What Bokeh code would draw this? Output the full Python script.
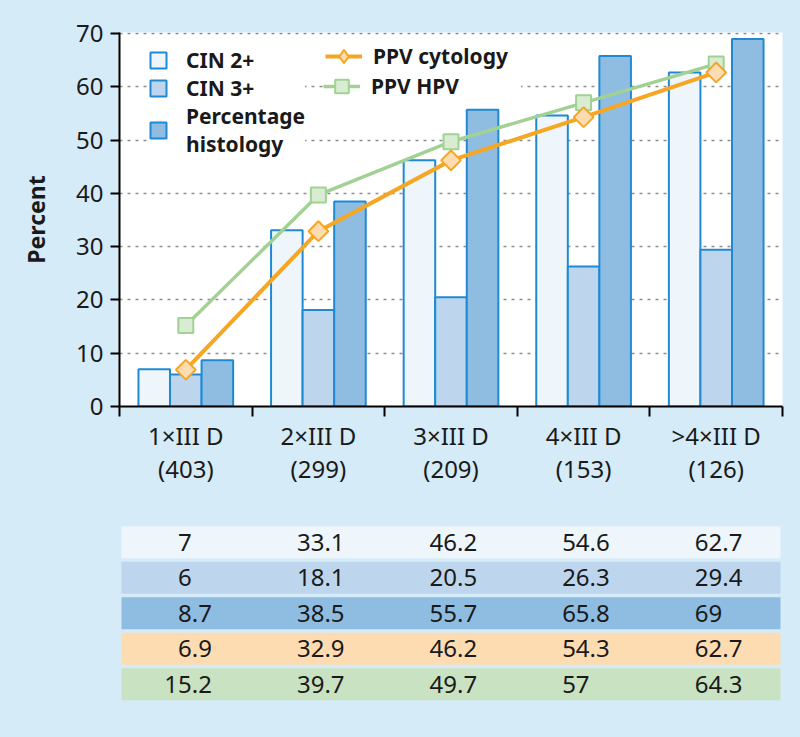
import numpy as np
from bokeh.plotting import figure
from bokeh.models import (Range1d, FixedTicker, Legend, LegendItem, ColumnDataSource)
from bokeh.layouts import column
from bokeh.core.properties import value
from bokeh.embed import file_html
from bokeh.resources import INLINE

# ---------------- data ----------------
categories = ["1×III D\n(403)", "2×III D\n(299)", "3×III D\n(209)", "4×III D\n(153)", ">4×III D\n(126)"]
cin2 = [7, 33.1, 46.2, 54.6, 62.7]
cin3 = [6, 18.1, 20.5, 26.3, 29.4]
histology = [8.7, 38.5, 55.7, 65.8, 69]
ppv_cytology = [6.9, 32.9, 46.2, 54.3, 62.7]
ppv_hpv = [15.2, 39.7, 49.7, 57, 64.3]
y_ticks = [0, 10, 20, 30, 40, 50, 60, 70]

BG = "#d5ebf8"
BLUE = "#1f8ad3"
C_CIN2 = "#eef5fb"
C_CIN3 = "#bdd6ee"
C_HIST = "#8fbde2"
ORANGE = "#f6a623"
C_ORANGE_FILL = "#fddcb2"
GREEN = "#a2d194"
C_GREEN_FILL = "#d8ecd2"
C_GREEN_ROW = "#c9e3c2"
FONT = "Noto Sans"
TXT = "#1a1a1a"

n = len(categories)
centers = np.arange(n) + 0.5
bw = 0.238

# ---------------- chart ----------------
p = figure(width=800, height=500, x_range=Range1d(0, n), y_range=Range1d(0, 70.2),
           output_backend="svg", toolbar_location=None,
           min_border_left=119, min_border_right=18, min_border_top=32, min_border_bottom=94)
p.border_fill_color = BG
p.background_fill_color = "white"
p.outline_line_color = None
p.xgrid.visible = False
p.ygrid.grid_line_color = "#8c8c8c"
p.ygrid.grid_line_dash = "3 5"
p.ygrid.grid_line_width = 1.5
p.ygrid.ticker = FixedTicker(ticks=y_ticks[1:])

r_cin2 = p.vbar(x=centers - bw, top=cin2, width=bw, fill_color=C_CIN2, line_color=BLUE, line_width=2)
r_cin3 = p.vbar(x=centers, top=cin3, width=bw, fill_color=C_CIN3, line_color=BLUE, line_width=2)
r_hist = p.vbar(x=centers + bw, top=histology, width=bw, fill_color=C_HIST, line_color=BLUE, line_width=2)

l_hpv = p.line(centers, ppv_hpv, line_color=GREEN, line_width=3.5)
s_hpv = p.scatter(centers, ppv_hpv, marker="square", size=15, fill_color=C_GREEN_FILL,
                  line_color=GREEN, line_width=2)
l_cyt = p.line(centers, ppv_cytology, line_color=ORANGE, line_width=4)
s_cyt = p.scatter(centers, ppv_cytology, marker="square", angle=np.pi / 4, size=14,
                  fill_color=C_ORANGE_FILL, line_color=ORANGE, line_width=2)
# legend proxy: legend glyphs are drawn unrotated, so use a diamond marker there
s_cyt_leg = p.scatter(centers, ppv_cytology, marker="diamond", fill_color=C_ORANGE_FILL,
                      line_color=ORANGE, line_width=2, visible=False)

# axes
xa = p.xaxis[0]
xa.ticker = FixedTicker(ticks=list(centers), minor_ticks=list(range(n + 1)))
xa.major_label_overrides = {float(c): lab for c, lab in zip(centers, categories)}
xa.major_tick_out = 0
xa.major_tick_in = 0
xa.minor_tick_out = 10
xa.minor_tick_in = 0
xa.minor_tick_line_color = "black"
xa.minor_tick_line_width = 2
xa.axis_line_color = "black"
xa.axis_line_width = 2
xa.major_label_text_font = FONT
xa.major_label_text_font_size = "24px"
xa.major_label_text_color = TXT
xa.major_label_text_line_height = 1.0
xa.major_label_standoff = 2

ya = p.yaxis[0]
ya.ticker = FixedTicker(ticks=y_ticks)
ya.minor_tick_line_color = None
ya.major_tick_out = 9
ya.major_tick_in = 0
ya.major_tick_line_color = "black"
ya.major_tick_line_width = 2
ya.axis_line_color = "black"
ya.axis_line_width = 2
ya.major_label_text_font = FONT
ya.major_label_text_font_size = "24px"
ya.major_label_text_color = TXT
ya.major_label_standoff = 7
ya.axis_label = "Percent"
ya.axis_label_text_font = FONT
ya.axis_label_text_font_style = "bold"
ya.axis_label_text_font_size = "23px"
ya.axis_label_text_color = TXT
ya.axis_label_standoff = 21

# legends
def style_legend(lg):
    lg.background_fill_color = "white"
    lg.background_fill_alpha = 1
    lg.border_line_color = None
    lg.margin = 0
    lg.spacing = 0
    lg.label_text_font = FONT
    lg.label_text_font_style = "bold"
    lg.label_text_font_size = "21px"
    lg.label_text_color = TXT
    lg.label_height = 28
    lg.label_text_line_height = 1.33

leg1 = Legend(items=[LegendItem(label="CIN 2+", renderers=[r_cin2]),
                     LegendItem(label="CIN 3+", renderers=[r_cin3]),
                     LegendItem(label="Percentage\nhistology", renderers=[r_hist])],
              location=(29, 248))
style_legend(leg1)
leg1.padding = 10
leg1.glyph_width = 20
leg1.glyph_height = 20
leg1.label_standoff = 18
leg1.label_width = 117

leg2b = Legend(items=[LegendItem(label="PPV HPV", renderers=[l_hpv, s_hpv])],
               location=(204, 303))
style_legend(leg2b)
leg2b.padding = 5
leg2a = Legend(items=[LegendItem(label="PPV cytology", renderers=[l_cyt, s_cyt_leg])],
               location=(206, 333))
style_legend(leg2a)
leg2a.padding = 3
for lg in (leg2a, leg2b):
    lg.glyph_width = 37
    lg.glyph_height = 34
    lg.label_standoff = 11
    lg.label_width = 150
p.add_layout(leg1, "center")
p.add_layout(leg2b, "center")
p.add_layout(leg2a, "center")

# ---------------- table ----------------
rows = [cin2, cin3, histology, ppv_cytology, ppv_hpv]
row_colors = [C_CIN2, C_CIN3, C_HIST, C_ORANGE_FILL, C_GREEN_ROW]

t = figure(width=800, height=237, x_range=Range1d(0, n), y_range=Range1d(5.5, -1.175),
           output_backend="svg", toolbar_location=None,
           min_border_left=119, min_border_right=18, min_border_top=0, min_border_bottom=0)
t.axis.visible = False
t.grid.visible = False
t.outline_line_color = None
t.border_fill_color = BG
t.background_fill_color = None

t.hbar(y=list(range(len(rows))), left=0.015, right=n - 0.015, height=0.9,
       fill_color=row_colors, line_color=None)

xs, ys, ints, fracs = [], [], [], []
for ri, vals in enumerate(rows):
    for ci, v in enumerate(vals):
        s = f"{v:g}"
        ip, _, fp = s.partition(".")
        xs.append(centers[ci])
        ys.append(ri)
        ints.append(ip)
        fracs.append("." + fp if fp else "")
src = ColumnDataSource(dict(x=xs, y=ys, i=ints, f=fracs))
common = dict(text_font_size="24px", text_color=TXT, text_baseline="middle", x_offset=6,
              text_font=value(FONT))
t.text(x="x", y="y", text="i", source=src, text_align="right", **common)
t.text(x="x", y="y", text="f", source=src, text_align="left", **common)

layout = column(p, t, spacing=0, styles={"background-color": BG})
open("out.html", "w").write(file_html(layout, INLINE))
